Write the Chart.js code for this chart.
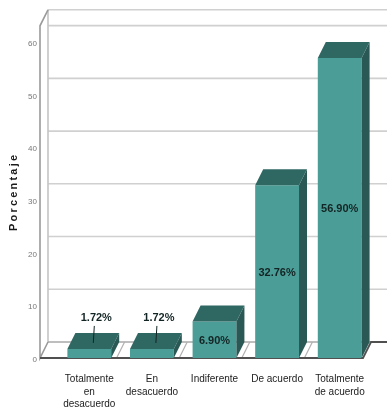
<!DOCTYPE html>
<html>
<head>
<meta charset="utf-8">
<script src="https://cdn.jsdelivr.net/npm/chart.js@4/dist/chart.umd.min.js"></script>
<style>
  html, body { margin: 0; padding: 0; background: #fff; }
  #wrap { width: 387px; height: 414px; position: relative; }
</style>
</head>
<body>
<div id="wrap"><canvas id="myChart"></canvas></div>
<script>
const categories = [
  ['Totalmente', 'en', 'desacuerdo'],
  ['En', 'desacuerdo'],
  'Indiferente',
  'De acuerdo',
  ['Totalmente', 'de acuerdo']
];
const percentages = [1.72, 1.72, 6.90, 32.76, 56.90];
const yTickValues = [0, 10, 20, 30, 40, 50, 60];
const yMax = 63;
const axisTitle = 'Porcentaje';

// depth of the fake 3d projection
const DX = 8, DY = -16;
const sans = "'Liberation Sans', Arial, sans-serif";

const frontColor = '#4b9d97';
const topColor = '#2f6763';
const sideColor = '#2a5955';

const box3d = {
  id: 'box3d',
  beforeDatasetsDraw(chart) {
    const { ctx, chartArea: a, scales: { x, y } } = chart;
    const left = a.left - 18;
    const W = chart.width;
    ctx.save();
    // back wall grid
    ctx.strokeStyle = '#d0d0d0';
    ctx.lineWidth = 1.6;
    yTickValues.slice(1).forEach(v => {
      const py = y.getPixelForValue(v) + DY;
      ctx.beginPath();
      ctx.moveTo(left + DX, py);
      ctx.lineTo(W, py);
      ctx.stroke();
    });
    ctx.beginPath();
    ctx.moveTo(left + DX, a.top + DY);
    ctx.lineTo(W, a.top + DY);
    ctx.stroke();
    // wall left edge
    ctx.strokeStyle = '#c4c4c4';
    ctx.beginPath();
    ctx.moveTo(left + DX, a.top + DY);
    ctx.lineTo(left + DX, a.bottom + DY);
    ctx.stroke();
    // back floor line
    ctx.strokeStyle = '#a8a8a8';
    ctx.beginPath();
    ctx.moveTo(left + DX, a.bottom + DY);
    ctx.lineTo(W, a.bottom + DY);
    ctx.stroke();
    // floor separators between categories
    ctx.strokeStyle = '#b0b0b0';
    ctx.lineWidth = 1.2;
    for (let i = 1; i < categories.length; i++) {
      const b = (x.getPixelForValue(i - 1) + x.getPixelForValue(i)) / 2;
      ctx.beginPath();
      ctx.moveTo(b - 4, a.bottom);
      ctx.lineTo(b + 4, a.bottom + DY);
      ctx.stroke();
    }
    // front left axis
    ctx.strokeStyle = '#9a9a9a';
    ctx.lineWidth = 1.6;
    ctx.beginPath();
    ctx.moveTo(left + DX, a.top + DY);
    ctx.lineTo(left, a.top);
    ctx.lineTo(left, a.bottom);
    ctx.lineTo(left + DX, a.bottom + DY);
    ctx.stroke();
    // front floor edge
    ctx.strokeStyle = '#505050';
    ctx.lineWidth = 1.8;
    ctx.beginPath();
    ctx.moveTo(left, a.bottom);
    ctx.lineTo(a.right - DX, a.bottom);
    ctx.lineTo(a.right, a.bottom + DY);
    ctx.lineTo(W, a.bottom + DY);
    ctx.stroke();
    ctx.restore();
  },
  afterDatasetsDraw(chart) {
    const { ctx } = chart;
    const meta = chart.getDatasetMeta(0);
    ctx.save();
    meta.data.forEach((bar, i) => {
      const { x, y, base, width } = bar.getProps(['x', 'y', 'base', 'width'], true);
      const l = x - width / 2, r = x + width / 2;
      ctx.fillStyle = sideColor;
      ctx.beginPath();
      ctx.moveTo(r, y);
      ctx.lineTo(r + DX, y + DY);
      ctx.lineTo(r + DX, base + DY);
      ctx.lineTo(r, base);
      ctx.closePath();
      ctx.fill();
      ctx.fillStyle = topColor;
      ctx.beginPath();
      ctx.moveTo(l, y);
      ctx.lineTo(l + DX, y + DY);
      ctx.lineTo(r + DX, y + DY);
      ctx.lineTo(r, y);
      ctx.closePath();
      ctx.fill();

      // value labels
      const v = percentages[i];
      const txt = v.toFixed(2) + '%';
      ctx.font = 'bold 11px ' + sans;
      ctx.fillStyle = '#132424';
      ctx.textAlign = 'center';
      ctx.textBaseline = 'middle';
      if (v < 5) {
        ctx.fillText(txt, x + 7, y - 31);
        ctx.strokeStyle = '#132424';
        ctx.lineWidth = 1;
        ctx.beginPath();
        ctx.moveTo(x + 5, y - 23);
        ctx.lineTo(x + 4, y - 6);
        ctx.stroke();
      } else {
        ctx.fillText(txt, x, (y + base) / 2 + 1);
      }
    });
    ctx.restore();
  },
  afterDraw(chart) {
    const { ctx, chartArea: a } = chart;
    ctx.save();
    ctx.translate(14, (a.top + a.bottom) / 2);
    ctx.rotate(-Math.PI / 2);
    ctx.font = 'bold 11px ' + sans;
    ctx.letterSpacing = '2.2px';
    ctx.fillStyle = '#1a1a1a';
    ctx.textAlign = 'center';
    ctx.textBaseline = 'middle';
    ctx.fillText(axisTitle, 0, 0);
    ctx.restore();
  }
};

const ctx = document.getElementById('myChart');
new Chart(ctx, {
  type: 'bar',
  data: {
    labels: categories,
    datasets: [{
      data: percentages,
      backgroundColor: frontColor,
      borderWidth: 0,
      barPercentage: 0.70,
      categoryPercentage: 1
    }]
  },
  options: {
    responsive: true,
    maintainAspectRatio: false,
    animation: false,
    layout: { padding: { top: 25, right: 16, left: 0, bottom: 0 } },
    plugins: { legend: { display: false }, tooltip: { enabled: false } },
    scales: {
      x: {
        grid: { display: false, drawTicks: false },
        border: { display: false },
        ticks: {
          color: '#222',
          padding: 15,
          maxRotation: 0,
          autoSkip: false,
          font: { family: sans, size: 10, lineHeight: 1.25 }
        },
        afterFit(s) { s.height = 56; }
      },
      y: {
        min: 0,
        max: yMax,
        grid: { display: false, drawTicks: false },
        border: { display: false },
        ticks: {
          stepSize: 10,
          includeBounds: false,
          color: '#777',
          padding: 21,
          labelOffset: 2,
          font: { family: sans, size: 8 }
        },
        afterFit(s) { s.width = 58; }
      }
    }
  },
  plugins: [box3d]
});
</script>
</body>
</html>
